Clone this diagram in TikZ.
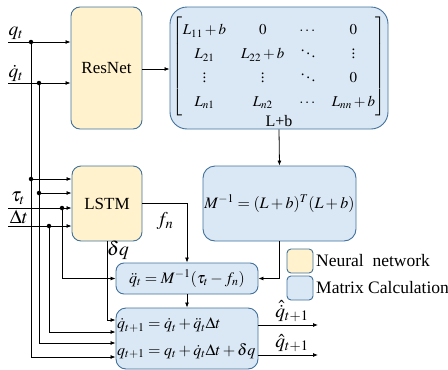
\documentclass[tikz,border=0pt]{standalone}
\usepackage{amsmath}
\usepackage{mathptmx}
\usepackage[no-math]{fontspec}
\setmainfont{Liberation Serif}
\usetikzlibrary{arrows.meta,calc}
\definecolor{nnfill}{RGB}{255,242,204}
\definecolor{mcfill}{RGB}{218,232,245}
\definecolor{bord}{RGB}{65,113,156}
\tikzset{
  nnbox/.style={draw=bord,fill=nnfill,rounded corners=9pt,line width=0.9pt,inner sep=0pt},
  mcbox/.style={draw=bord,fill=mcfill,rounded corners=12pt,line width=0.9pt,inner sep=0pt},
  conn/.style={line width=0.8pt},
  arr/.style={conn,-{Latex[length=5pt,width=4pt]}},
  dot/.style={circle,fill=black,inner sep=0pt,minimum size=4.5pt},
  nntxt/.style={inner sep=0pt,font=\fontsize{17}{20}\selectfont},
  lbl/.style={inner sep=0pt,font=\fontsize{16}{19}\selectfont},
  leg/.style={inner sep=0pt,font=\fontsize{17.5}{20}\selectfont},
  mlbl/.style={inner sep=0pt,font=\fontsize{19.5}{22}\selectfont}
}
\begin{document}
\begin{tikzpicture}[x=1pt,y=-1pt]
\useasboundingbox (0,0) rectangle (448,370);
\fontsize{16}{19}\selectfont
% boxes
\node[nnbox,minimum width=71pt,minimum height=122pt] (res) at (106.5,68) {};
\node[nntxt] (rest) at (res.center) {ResNet};
\node[mcbox,rounded corners=17pt,minimum width=218pt,minimum height=122pt] (mat) at (279,68) {};
\node[inner sep=0pt] (matc) at (279,66) {\fontsize{15}{18}\selectfont$\renewcommand{\arraystretch}{1.33}\setlength{\arraycolsep}{7.5pt}\begin{bmatrix}
L_{11}+b & 0 & \cdots & 0\\
L_{21} & L_{22}+b & \ddots & \vdots\\
\vdots & \vdots & \ddots & 0\\
L_{n1} & L_{n2} & \cdots & L_{nn}+b
\end{bmatrix}$};
\node[lbl] (lb) at (279,121) {L+b};
\node[mcbox,minimum width=153pt,minimum height=75pt] (minv) at (279.5,203.5) {$M^{-1}=(L+b)^T(L+b)$};
\node[nnbox,minimum width=70pt,minimum height=75pt] (lstm) at (107,203.5) {};
\node[nntxt] (lstmt) at (lstm.center) {LSTM};
\node[mcbox,rounded corners=8pt,minimum width=142pt,minimum height=31pt] (qdd) at (187,278.5) {$\ddot q_t=M^{-1}(\tau_t-f_n)$};
\node[mcbox,rounded corners=10pt,minimum width=142pt,minimum height=61pt] (fin) at (187,338.5) {};
\node[inner sep=0pt,anchor=west] (e1) at (117,325) {$\dot q_{t+1}=\dot q_t+\ddot q_t\Delta t$};
\node[inner sep=0pt,anchor=west] (e2) at (117,351) {$q_{t+1}=q_t+\dot q_t\Delta t+\delta q$};
% legend
\node[nnbox,rounded corners=4pt,minimum width=26pt,minimum height=24pt] (lg1) at (300,261) {};
\node[mcbox,rounded corners=4pt,minimum width=26pt,minimum height=24pt] (lg2) at (300,288) {};
\node[leg,anchor=west] (lt1) at (316,261) {Neural\ \ network};
\node[leg,anchor=west] (lt2) at (316,288) {Matrix Calculation};
% inputs
\coordinate (qin) at (8,42);
\coordinate (qdin) at (8,83);
\coordinate (tin) at (8,208);
\coordinate (din) at (8,226);
\node[mlbl] (ql) at (16,33) {$q_t$};
\node[mlbl] (qdl) at (16,73) {$\dot q_t$};
\node[mlbl] (tl) at (18,198) {$\tau_t$};
\node[mlbl] (dl) at (19,217) {$\Delta t$};
\node[dot] (d1) at (31,42) {};
\node[dot] (d2) at (39,83) {};
\node[dot] (d3) at (31,179) {};
\node[dot] (d4) at (39,193) {};
\node[dot] (d5) at (62,208) {};
\node[dot] (d6) at (49,226) {};
\draw[arr] (qin) -- (qin -| res.west);
\draw[arr] (qdin) -- (qdin -| res.west);
\draw[arr] (d3) -- (d3 -| lstm.west);
\draw[arr] (d4) -- (d4 -| lstm.west);
\draw[arr] (tin) -- (tin -| lstm.west);
\draw[arr] (din) -- (din -| lstm.west);
\draw[conn] (d1.center) -- (d3.center);
\draw[conn] (d2.center) -- (d4.center);
\draw[arr] (d3.center) -- (31,357) -- (fin.west |- 0,357);
\draw[arr] (d4.center) -- (39,343) -- (fin.west |- 0,343);
\draw[arr] (d6.center) -- (49,332) -- (fin.west |- 0,332);
\draw[arr] (d5.center) -- (62,278.5) -- (qdd.west);
% internal
\draw[arr] (res.east |- 0,69) -- (mat.west |- 0,69);
\draw[arr] (mat.south) -- (minv.north);
\draw[arr] (minv.south) -- (279.5,278.5) -- (qdd.east);
\draw[arr] (lstm.east |- 0,203) -- (187,203) -- (qdd.north);
\draw[arr] (qdd.south) -- (fin.north);
\draw[arr] (lstm.south) -- (107,320) -- (fin.west |- 0,320);
\node[mlbl] (fl) at (165,221) {$f_n$};
\node[mlbl] (dql) at (118,250) {$\delta q$};
% outputs
\coordinate (o1) at (318,325);
\coordinate (o2) at (318,355);
\draw[arr] (fin.east |- o1) -- (o1);
\draw[arr] (fin.east |- o2) -- (o2);
\node[mlbl] (ol1) at (292,311) {$\hat{\dot q}_{t+1}$};
\node[mlbl] (ol2) at (292,343) {$\hat q_{t+1}$};
\end{tikzpicture}
\end{document}
